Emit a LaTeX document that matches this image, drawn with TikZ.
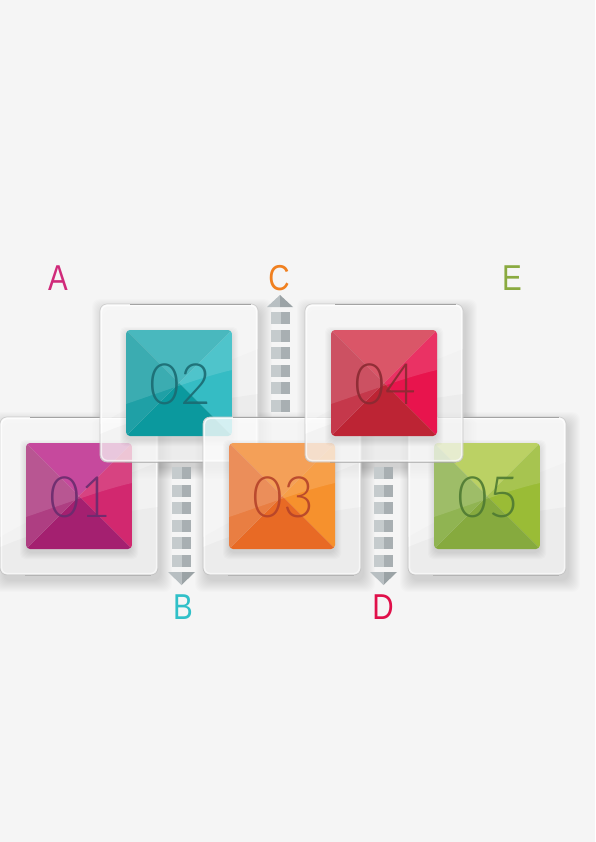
\documentclass[tikz,border=0pt]{standalone}
\usepackage{fontspec}
\setmainfont{Liberation Sans}
\newfontfamily\numfont{Lato Light}
\definecolor{bgc}{HTML}{F5F5F5}
% tile colours: t=top, l=left, b=bottom, r=right, n=number
\definecolor{c01t}{HTML}{BE2F8F}\definecolor{c01l}{HTML}{AE3E82}\definecolor{c01b}{HTML}{A42070}\definecolor{c01r}{HTML}{D2286F}\definecolor{c01n}{HTML}{6A2C6E}
\definecolor{c02t}{HTML}{2FAEB5}\definecolor{c02l}{HTML}{1FA0A6}\definecolor{c02b}{HTML}{0B999E}\definecolor{c02r}{HTML}{35BCC4}\definecolor{c02n}{HTML}{1B6B72}
\definecolor{c03t}{HTML}{F39240}\definecolor{c03l}{HTML}{E97E42}\definecolor{c03b}{HTML}{E86A25}\definecolor{c03r}{HTML}{F6912D}\definecolor{c03n}{HTML}{B5432A}
\definecolor{c04t}{HTML}{D53D52}\definecolor{c04l}{HTML}{C5384B}\definecolor{c04b}{HTML}{BD2434}\definecolor{c04r}{HTML}{E8144D}\definecolor{c04n}{HTML}{8A2A32}
\definecolor{c05t}{HTML}{B2CB4E}\definecolor{c05l}{HTML}{90B452}\definecolor{c05b}{HTML}{86AA3E}\definecolor{c05r}{HTML}{9ABC36}\definecolor{c05n}{HTML}{4E7A32}
\definecolor{cA}{HTML}{D02A7A}\definecolor{cB}{HTML}{30C0C8}\definecolor{cC}{HTML}{F08020}\definecolor{cD}{HTML}{E0104A}\definecolor{cE}{HTML}{8AAA40}
\definecolor{arL}{HTML}{C5CBCD}\definecolor{arR}{HTML}{A8AFB2}
\definecolor{ahL}{HTML}{B8BFC2}\definecolor{ahR}{HTML}{9BA3A6}

\newcommand\tileshadow[2]{%
  \foreach \k in {0,...,11} {
    \fill[black, opacity=0.01, rounded corners=8pt] (#1+3-\k,#2+6-\k) rectangle (#1+161+\k,#2+164+\k);
  }
}
\newcommand\tile[3]{% #1 id, #2 frame x, #3 frame y
  \node[glass] (f#1) at (#2+79,#3+79) {};
  \draw[white, opacity=0.8, line width=1.2pt, rounded corners=6pt] (#2+1.5,#3+1.5) rectangle (#2+156.5,#3+156.5);
  \begin{scope}
    \clip[rounded corners=7pt] (#2,#3) rectangle ++(158,158);
    \fill[white, opacity=0.25] (#2,#3+120) .. controls (#2+70,#3+80) and (#2+120,#3+60) .. (#2+158,#3+45) -- (#2+158,#3) -- (#2,#3) -- cycle;
    \fill[black, opacity=0.025] (#2,#3+130) .. controls (#2+60,#3+105) and (#2+120,#3+95) .. (#2+158,#3+90) -- (#2+158,#3+158) -- (#2,#3+158) -- cycle;
  \end{scope}
  \draw[black!55, opacity=0.6, line width=0.9pt] (#2+30,#3) -- (#2+151,#3);
  \draw[black!40, opacity=0.5, line width=0.8pt] (#2+25,#3+158) -- (#2+151,#3+158);
  \foreach \k in {0,...,6} {
    \fill[black, opacity=0.016, rounded corners=5pt] (#2+26-\k,#3+29-\k) rectangle (#2+132+\k,#3+136+\k);
  }
  \begin{scope}
    \clip[rounded corners=4pt] (#2+26,#3+26) rectangle ++(106,106);
    \fill[c#1t] (#2+26,#3+26) -- (#2+132,#3+26) -- (#2+79,#3+79) -- cycle;
    \fill[c#1r] (#2+132,#3+26) -- (#2+132,#3+132) -- (#2+79,#3+79) -- cycle;
    \fill[c#1b] (#2+132,#3+132) -- (#2+26,#3+132) -- (#2+79,#3+79) -- cycle;
    \fill[c#1l] (#2+26,#3+132) -- (#2+26,#3+26) -- (#2+79,#3+79) -- cycle;
    \fill[white, opacity=0.13] (#2+26,#3+100) .. controls (#2+70,#3+85) and (#2+105,#3+72) .. (#2+132,#3+66) -- (#2+132,#3+26) -- (#2+26,#3+26) -- cycle;
  \end{scope}
  \node[num, text=c#1n] (n#1) at (#2+80,#3+80) {\scalebox{0.93}[1]{#1}};
}
\newcommand\arrowsq[2]{% #1 x-left, #2 y-top ; square 19 wide, 12 tall
  \fill[arL] (#1,#2) rectangle ++(9.5,12);
  \fill[arR] (#1+9.5,#2) rectangle ++(9.5,12);
}

\tikzset{
  glass/.style={draw=black!22, line width=0.7pt, fill=white, fill opacity=0.72, rounded corners=7pt, minimum size=158pt, inner sep=0pt},
  num/.style={font=\numfont\fontsize{57}{57}\selectfont, inner sep=0pt, text opacity=0.9},
  lbl/.style={font=\fontsize{36}{36}\selectfont, inner sep=0pt}
}

\begin{document}
\begin{tikzpicture}[x=1pt, y=-1pt]
\fill[bgc] (0,0) rectangle (595,842);
\useasboundingbox (0,0) rectangle (595,842);

% shadows
\tileshadow{0}{417}
\tileshadow{203}{417}
\tileshadow{408}{417}
\tileshadow{100}{304}
\tileshadow{305}{304}

% arrow C (up)
\foreach \i in {0,...,5} {\arrowsq{271}{312+\i*17.6}}
\fill[ahL] (280,295) -- (267,307) -- (280,307) -- cycle;
\fill[ahR] (280,295) -- (293,307) -- (280,307) -- cycle;
% arrow B (down)
\foreach \i in {0,...,5} {\arrowsq{172}{467+\i*17.6}}
\fill[ahL] (181.5,585) -- (168,572) -- (181.5,572) -- cycle;
\fill[ahR] (181.5,585) -- (195,572) -- (181.5,572) -- cycle;
% arrow D (down)
\foreach \i in {0,...,5} {\arrowsq{374}{467+\i*17.6}}
\fill[ahL] (383.5,585) -- (370,572) -- (383.5,572) -- cycle;
\fill[ahR] (383.5,585) -- (397,572) -- (383.5,572) -- cycle;

% tiles
\tile{01}{0}{417}
\tile{02}{100}{304}
\tile{03}{203}{417}
\tile{05}{408}{417}
\tile{04}{305}{304}

% labels
\node[lbl, text=cA] (lA) at (58,278) {\scalebox{0.82}[1]{A}};
\node[lbl, text=cC] (lC) at (279,278) {\scalebox{0.82}[1]{C}};
\node[lbl, text=cE] (lE) at (512,278) {\scalebox{0.82}[1]{E}};
\node[lbl, text=cB] (lB) at (183,607) {\scalebox{0.82}[1]{B}};
\node[lbl, text=cD] (lD) at (383,607) {\scalebox{0.82}[1]{D}};
\end{tikzpicture}
\end{document}
